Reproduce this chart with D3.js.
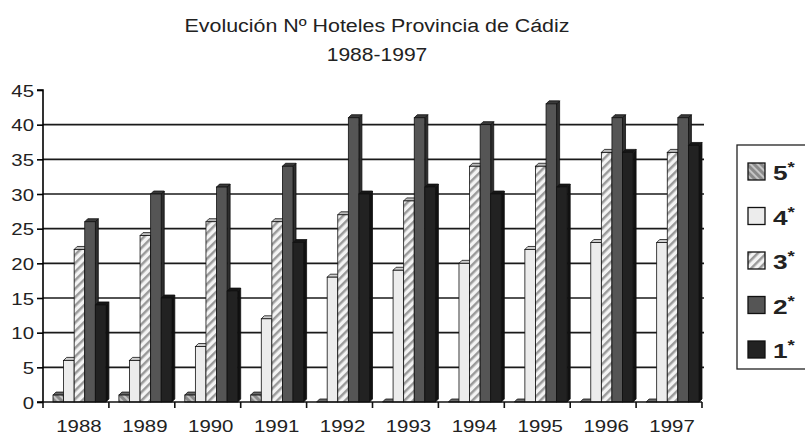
<!DOCTYPE html>
<html>
<head>
<meta charset="utf-8">
<script src="https://cdn.jsdelivr.net/npm/d3@7"></script>
<style>
  body { margin: 0; background: #fff; }
  svg { display: block; font-family: "Liberation Sans", Arial, sans-serif; }
</style>
</head>
<body>
<div id="chart"></div>
<script>
// data
const years = ["1988", "1989", "1990", "1991", "1992", "1993", "1994", "1995", "1996", "1997"];
const seriesNames = ["5*", "4*", "3*", "2*", "1*"];
const cinco = [1, 1, 1, 1, 0, 0, 0, 0, 0, 0];
const cuatro = [6, 6, 8, 12, 18, 19, 20, 22, 23, 23];
const tres = [22, 24, 26, 26, 27, 29, 34, 34, 36, 36];
const dos = [26, 30, 31, 34, 41, 41, 40, 43, 41, 41];
const uno = [14, 15, 16, 23, 30, 31, 30, 31, 36, 37];
const yTicks = [0, 5, 10, 15, 20, 25, 30, 35, 40, 45];

const svgWidth = 805;
const svgHeight = 436;

const margin = { top: 90, right: 103, bottom: 34, left: 43 };
const chartWidth = svgWidth - margin.left - margin.right;
const chartHeight = svgHeight - margin.top - margin.bottom;

// the original picture is stretched sideways, so text is widened too
const stretch = 1.2;

const allValues = [cinco, cuatro, tres, dos, uno];
const fills = ["url(#hatch5)", "#ececec", "url(#hatch3)", "#555555", "#222222"];
const sideFills = ["#5a5a5a", "#9a9a9a", "#8a8a8a", "#2e2e2e", "#111111"];
const topFills = ["#6a6a6a", "#cfcfcf", "#bdbdbd", "#3a3a3a", "#161616"];
const depth = 3;

const svg = d3.select("#chart").append("svg")
    .attr("width", svgWidth)
    .attr("height", svgHeight);

// hatch patterns
const defs = svg.append("defs");
const p5 = defs.append("pattern").attr("id", "hatch5")
    .attr("patternUnits", "userSpaceOnUse").attr("width", 5).attr("height", 5)
    .attr("patternTransform", "rotate(-45)");
p5.append("rect").attr("width", 5).attr("height", 5).attr("fill", "#8a8a8a");
p5.append("rect").attr("width", 2).attr("height", 5).attr("fill", "#c4c4c4");

const p3 = defs.append("pattern").attr("id", "hatch3")
    .attr("patternUnits", "userSpaceOnUse").attr("width", 6).attr("height", 6)
    .attr("patternTransform", "rotate(45)");
p3.append("rect").attr("width", 6).attr("height", 6).attr("fill", "#f4f4f4");
p3.append("rect").attr("width", 2.5).attr("height", 6).attr("fill", "#9a9a9a");

// title
const wideText = (parent, x, y, txt, size, sx) => parent.append("text")
    .attr("transform", `translate(${x},${y}) scale(${sx},1)`)
    .attr("text-anchor", "middle")
    .attr("font-size", size)
    .attr("fill", "#222")
    .text(txt);

wideText(svg, 377, 32, "Evolución Nº Hoteles Provincia de Cádiz", "18px", 1.19);
wideText(svg, 377, 61, "1988-1997", "18px", 1.17);

const xScale = d3.scaleBand()
    .domain(years)
    .range([0, chartWidth]);

const xInner = d3.scaleBand()
    .domain(seriesNames)
    .range([10, xScale.bandwidth() - 3]);

const yScale = d3.scaleLinear()
    .domain([0, 45])
    .range([chartHeight, 0]);

const chartGroup = svg.append("g")
    .attr("transform", `translate(${margin.left}, ${margin.top})`);

// gridlines
chartGroup.append("g")
    .selectAll("line")
    .data(yTicks.filter(d => d > 0 && d < 45))
    .enter().append("line")
    .attr("x1", 0).attr("x2", chartWidth + 2)
    .attr("y1", d => yScale(d)).attr("y2", d => yScale(d))
    .attr("stroke", "#1a1a1a")
    .attr("stroke-width", 1.6);

// bars
seriesNames.forEach((s, si) => {
    const vals = allValues[si];
    const g = chartGroup.append("g");
    const bw = xInner.bandwidth();
    years.forEach((yr, i) => {
        const x0 = xScale(yr) + xInner(s);
        const y0 = yScale(vals[i]);
        const h = chartHeight - y0;
        // right side face
        g.append("path")
            .attr("d", `M${x0 + bw},${y0} L${x0 + bw + depth},${y0 - depth} L${x0 + bw + depth},${chartHeight - depth} L${x0 + bw},${chartHeight} Z`)
            .attr("fill", sideFills[si])
            .attr("stroke", "#111").attr("stroke-width", 0.8);
        // top face
        g.append("path")
            .attr("d", `M${x0},${y0} L${x0 + depth},${y0 - depth} L${x0 + bw + depth},${y0 - depth} L${x0 + bw},${y0} Z`)
            .attr("fill", topFills[si])
            .attr("stroke", "#111").attr("stroke-width", 0.8);
        // front face
        g.append("rect")
            .attr("x", x0).attr("y", y0)
            .attr("width", bw).attr("height", h)
            .attr("fill", fills[si])
            .attr("stroke", "#111").attr("stroke-width", 0.8);
    });
});

// axes
const yAxis = d3.axisLeft(yScale)
    .tickValues(yTicks)
    .tickSize(6)
    .tickPadding(3);
const yAxisG = chartGroup.append("g").call(yAxis);
yAxisG.select(".domain").attr("stroke-width", 1.6).attr("d", `M-6,0H0V${chartHeight}H-6`);
yAxisG.selectAll(".tick line").attr("stroke-width", 1.6);
yAxisG.selectAll("text")
    .attr("font-size", "17px")
    .attr("fill", "#222")
    .attr("x", -9 / stretch)
    .attr("dy", "0.36em")
    .attr("transform", `scale(${stretch},1)`);

const xAxisG = chartGroup.append("g")
    .attr("transform", `translate(0, ${chartHeight})`);
xAxisG.append("line")
    .attr("x1", 0).attr("x2", chartWidth)
    .attr("stroke", "#111").attr("stroke-width", 1.6);
xAxisG.selectAll("line.tk")
    .data(years.map(d => xScale(d)).concat([chartWidth]))
    .enter().append("line")
    .attr("class", "tk")
    .attr("x1", d => d).attr("x2", d => d)
    .attr("y1", 0).attr("y2", 6)
    .attr("stroke", "#111").attr("stroke-width", 1.6);
xAxisG.selectAll("text")
    .data(years)
    .enter().append("text")
    .attr("transform", d => `translate(${xScale(d) + xScale.bandwidth() / 2 + 3}, 30) scale(${stretch},1)`)
    .attr("text-anchor", "middle")
    .attr("font-size", "17px")
    .attr("fill", "#222")
    .text(d => d);

// legend
const legend = svg.append("g").attr("transform", "translate(737, 145)");
legend.append("rect")
    .attr("width", 72).attr("height", 224)
    .attr("fill", "#fff")
    .attr("stroke", "#222").attr("stroke-width", 1.3);
seriesNames.forEach((s, si) => {
    const ly = 18 + si * 44.5;
    legend.append("rect")
        .attr("x", 11).attr("y", ly)
        .attr("width", 17).attr("height", 17)
        .attr("fill", fills[si])
        .attr("stroke", "#111").attr("stroke-width", 1.3);
    const t = legend.append("text")
        .attr("transform", `translate(36, ${ly + 17}) scale(1.25,1)`)
        .attr("font-size", "21px")
        .attr("font-weight", "bold")
        .attr("fill", "#222")
        .text(s.replace("*", ""));
    t.append("tspan")
        .attr("font-size", "15px")
        .attr("dy", -8)
        .text("*");
});
</script>
</body>
</html>
